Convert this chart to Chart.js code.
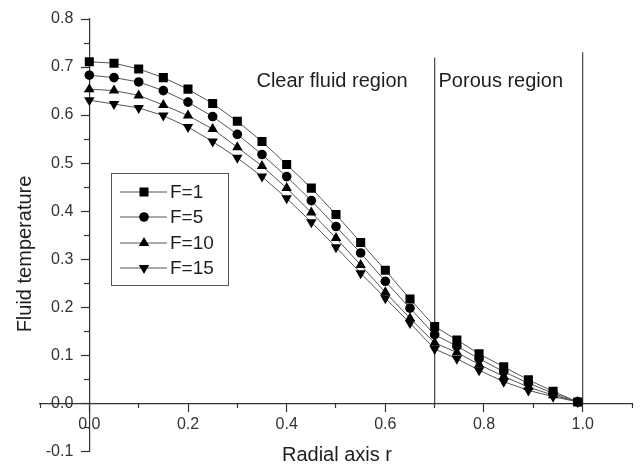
<!DOCTYPE html>
<html lang="en">
<head>
    <meta charset="UTF-8">
    <title>Fluid temperature vs radial axis</title>
    <style>
        html, body {
            margin: 0;
            padding: 0;
            background: #fff;
        }
        #chartBox {
            width: 642px;
            height: 469px;
        }
    </style>
    <script src="https://cdn.jsdelivr.net/npm/chart.js"></script>
</head>
<body>
    <div id="chartBox">
        <canvas id="tempChart"></canvas>
    </div>

    <script>
        // radial positions of the computed points
        const radius = [0, 0.05, 0.1, 0.15, 0.2, 0.25, 0.3, 0.35, 0.4, 0.45, 0.5, 0.55, 0.6, 0.65, 0.7,
                        0.745, 0.79, 0.84, 0.89, 0.94, 0.99];
        const seriesNames = ['F=1', 'F=5', 'F=10', 'F=15'];
        const tempF1  = [0.711, 0.708, 0.696, 0.678, 0.654, 0.624, 0.587, 0.545, 0.497, 0.448, 0.393, 0.335, 0.277, 0.217, 0.160,
                         0.132, 0.103, 0.076, 0.049, 0.025, 0.003];
        const tempF5  = [0.683, 0.678, 0.669, 0.651, 0.627, 0.597, 0.560, 0.518, 0.472, 0.422, 0.368, 0.313, 0.254, 0.198, 0.143,
                         0.119, 0.093, 0.066, 0.042, 0.021, 0.003];
        const tempF10 = [0.654, 0.651, 0.641, 0.621, 0.599, 0.571, 0.533, 0.494, 0.448, 0.397, 0.344, 0.288, 0.231, 0.177, 0.126,
                         0.106, 0.081, 0.056, 0.034, 0.017, 0.003];
        const tempF15 = [0.631, 0.623, 0.615, 0.599, 0.575, 0.545, 0.511, 0.472, 0.427, 0.377, 0.325, 0.271, 0.219, 0.167, 0.113,
                         0.093, 0.069, 0.045, 0.027, 0.014, 0.003];

        // region boundaries (r) and how high the marker lines go
        const boundaryR = [0.7, 1.0];
        const boundaryTop = [0.72, 0.731];
        const regionNames = ['Clear fluid region', 'Porous region'];

        // axis ticks
        const xMajorTicks = [0, 0.2, 0.4, 0.6, 0.8, 1.0];
        const xMinorTicks = [-0.1, 0.1, 0.3, 0.5, 0.7, 0.9, 1.1];
        const yMajorTicks = [-0.1, 0, 0.1, 0.2, 0.3, 0.4, 0.5, 0.6, 0.7, 0.8];
        const yMinorTicks = [-0.05, 0.05, 0.15, 0.25, 0.35, 0.45, 0.55, 0.65, 0.75];

        const FONT = "'Liberation Sans', Arial, sans-serif";
        const INK = '#1e1e1e';
        const LINE = '#555';

        const markers = [
            { style: 'rect', radius: 6.4, rotation: 0 },
            { style: 'circle', radius: 4.8, rotation: 0 },
            { style: 'triangle', radius: 6, rotation: 0 },
            { style: 'triangle', radius: 6, rotation: 180 }
        ];
        const temps = [tempF1, tempF5, tempF10, tempF15];

        const datasets = temps.map((vals, i) => ({
            label: seriesNames[i],
            data: radius.map((r, k) => ({ x: r, y: vals[k] })),
            borderColor: LINE,
            borderWidth: 1,
            backgroundColor: '#000',
            pointBackgroundColor: '#000',
            pointBorderColor: '#000',
            pointBorderWidth: 0,
            pointStyle: markers[i].style,
            pointRadius: markers[i].radius,
            pointRotation: markers[i].rotation,
            tension: 0,
            fill: false
        }));

        boundaryR.forEach((r, i) => {
            datasets.push({
                label: 'boundary',
                data: [{ x: r, y: 0 }, { x: r, y: boundaryTop[i] }],
                borderColor: '#444',
                borderWidth: 1.2,
                pointRadius: 0,
                fill: false
            });
        });

        const setTicks = (list) => (scale) => {
            scale.ticks = list.map(v => ({ value: v }));
        };
        const flatX = (scale) => { scale.height = 0; };
        const flatY = (scale) => { scale.width = 0; };

        // a y axis placed at x = 0 draws its labels right on the axis line,
        // so push them left by tick length + padding
        const flatYShifted = (dx) => (scale) => {
            scale.width = 0;
            if (scale._shiftPatched) return;
            const base = scale._computeLabelItems;
            scale._computeLabelItems = function (area) {
                const items = base.call(this, area);
                items.forEach(it => { it.options.translation[0] -= dx; });
                return items;
            };
            scale._shiftPatched = true;
        };

        // legend box, region labels and axis titles
        const extrasPlugin = {
            id: 'extras',
            afterDatasetsDraw(chart) {
                const ctx = chart.ctx;
                const xs = chart.scales.x;
                const ys = chart.scales.y;
                ctx.save();
                ctx.fillStyle = INK;
                ctx.font = '20px ' + FONT;
                ctx.textBaseline = 'middle';

                // region labels
                ctx.textAlign = 'center';
                ctx.fillText(regionNames[0], xs.getPixelForValue(0.492), ys.getPixelForValue(0.67));
                ctx.fillText(regionNames[1], xs.getPixelForValue(0.834), ys.getPixelForValue(0.67));

                // axis titles
                ctx.fillText('Radial axis r', 337, 455);
                ctx.save();
                ctx.translate(25, 254);
                ctx.rotate(-Math.PI / 2);
                ctx.fillText('Fluid temperature', 0, 0);
                ctx.restore();

                // legend
                const box = { left: 111.5, top: 173.5, width: 117, height: 112 };
                ctx.strokeStyle = '#555';
                ctx.lineWidth = 1;
                ctx.strokeRect(box.left, box.top, box.width, box.height);
                ctx.font = '19px ' + FONT;
                ctx.textAlign = 'left';
                const rows = [192, 217, 243, 268];
                seriesNames.forEach((name, i) => {
                    const y = rows[i];
                    ctx.strokeStyle = LINE;
                    ctx.beginPath();
                    ctx.moveTo(120, y);
                    ctx.lineTo(167, y);
                    ctx.stroke();
                    ctx.fillStyle = '#000';
                    Chart.helpers.drawPoint(ctx, {
                        pointStyle: markers[i].style,
                        radius: markers[i].radius,
                        rotation: markers[i].rotation,
                        borderWidth: 0
                    }, 144, y);
                    ctx.fillStyle = INK;
                    ctx.fillText(name, 170, y + 1);
                });
                ctx.restore();
            }
        };

        const ctx = document.getElementById('tempChart').getContext('2d');
        const tempChart = new Chart(ctx, {
            type: 'line',
            data: { datasets: datasets },
            options: {
                responsive: true,
                maintainAspectRatio: false,
                animation: false,
                layout: {
                    padding: { left: 40, right: 10, top: 19, bottom: 6 }
                },
                plugins: {
                    legend: { display: false },
                    title: { display: false },
                    tooltip: { enabled: false }
                },
                scales: {
                    x: {
                        type: 'linear',
                        position: { y: 0 },
                        min: -0.1,
                        max: 1.1,
                        afterBuildTicks: setTicks(xMajorTicks),
                        afterFit: flatX,
                        border: { display: true, color: '#333', width: 1.2 },
                        grid: { drawOnChartArea: false, drawTicks: true, tickLength: 8, tickColor: '#333', tickWidth: 1.2 },
                        ticks: {
                            color: '#333',
                            font: { family: FONT, size: 16 },
                            padding: 4,
                            maxRotation: 0,
                            autoSkip: false,
                            callback: (v) => Number(v).toFixed(1)
                        }
                    },
                    xMinor: {
                        type: 'linear',
                        axis: 'x',
                        position: { y: 0 },
                        min: -0.1,
                        max: 1.1,
                        afterBuildTicks: setTicks(xMinorTicks),
                        afterFit: flatX,
                        border: { display: false },
                        grid: { drawOnChartArea: false, drawTicks: true, tickLength: 5, tickColor: '#333', tickWidth: 1.2 },
                        ticks: { display: false }
                    },
                    y: {
                        type: 'linear',
                        position: { x: 0 },
                        min: -0.1,
                        max: 0.8,
                        afterBuildTicks: setTicks(yMajorTicks),
                        afterFit: flatYShifted(16),
                        border: { display: true, color: '#333', width: 1.2 },
                        grid: { drawOnChartArea: false, drawTicks: true, tickLength: 8, tickColor: '#333', tickWidth: 1.2 },
                        ticks: {
                            color: '#333',
                            font: { family: FONT, size: 16 },
                            padding: 8,
                            autoSkip: false,
                            callback: (v) => Number(v).toFixed(1)
                        }
                    },
                    yMinor: {
                        type: 'linear',
                        axis: 'y',
                        position: { x: 0 },
                        min: -0.1,
                        max: 0.8,
                        afterBuildTicks: setTicks(yMinorTicks),
                        afterFit: flatY,
                        border: { display: false },
                        grid: { drawOnChartArea: false, drawTicks: true, tickLength: 5, tickColor: '#333', tickWidth: 1.2 },
                        ticks: { display: false }
                    }
                }
            },
            plugins: [extrasPlugin]
        });
    </script>
</body>
</html>
